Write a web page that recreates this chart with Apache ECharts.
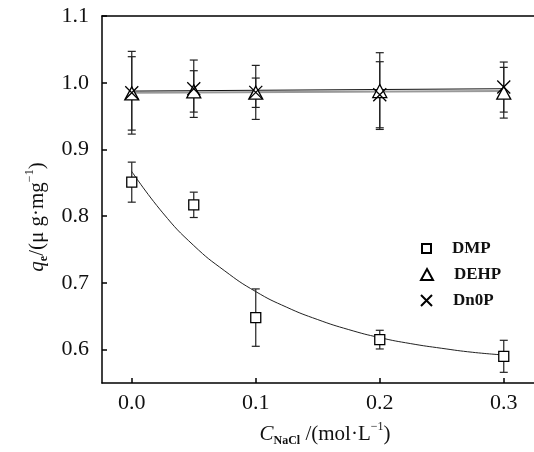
<!DOCTYPE html>
<html><head><meta charset="utf-8">
<script src="https://cdn.jsdelivr.net/npm/echarts@6/dist/echarts.min.js"></script>
<style>html,body{margin:0;padding:0;background:#fff}#c{width:534px;height:452px}</style>
</head><body><div id="c"></div>
<script>
const xVals = [0, 0.05, 0.1, 0.2, 0.3];
const dmp = [0.851, 0.817, 0.648, 0.615, 0.590];
const dmpErr = [0.030, 0.019, 0.043, 0.014, 0.024];
const dehp = [0.984, 0.987, 0.985, 0.9875, 0.985];
const dehpErr = [0.055, 0.031, 0.022, 0.0575, 0.038];
const dnop = [0.985, 0.991, 0.9855, 0.982, 0.9935];
const dnopErr = [0.062, 0.043, 0.0405, 0.0495, 0.0375];
const dmpFitX = [0, 0.025, 0.05, 0.075, 0.1, 0.125, 0.15, 0.175, 0.2, 0.225, 0.25, 0.275, 0.3];
const dmpFitY = [0.867, 0.805, 0.756, 0.718, 0.687, 0.6635, 0.645, 0.630, 0.618, 0.609, 0.602, 0.596, 0.592];
const flatFitX = [0, 0.3];
const dehpFitY = [0.985, 0.9875];
const dnopFitY = [0.9875, 0.991];
const xTicks = [0, 0.1, 0.2, 0.3];
const yTicks = [0.6, 0.7, 0.8, 0.9, 1.0, 1.1];

const FONT = '"Liberation Serif", "DejaVu Serif", serif';
const zip = (xs, ys) => xs.map((x, i) => [x, ys[i]]);
const errData = (ys, es) => xVals.map((x, i) => [x, ys[i] - es[i], ys[i] + es[i]]);

function errBar(params, api) {
  const x = api.value(0);
  const lo = api.coord([x, api.value(1)]);
  const hi = api.coord([x, api.value(2)]);
  const w = 4;
  const st = {stroke: '#222', lineWidth: 1.2, fill: 'none'};
  return {type: 'group', children: [
    {type: 'line', shape: {x1: lo[0], y1: lo[1], x2: hi[0], y2: hi[1]}, style: st},
    {type: 'line', shape: {x1: lo[0]-w, y1: lo[1], x2: lo[0]+w, y2: lo[1]}, style: st},
    {type: 'line', shape: {x1: hi[0]-w, y1: hi[1], x2: hi[0]+w, y2: hi[1]}, style: st}
  ]};
}

const XPATH = 'path://M0,0L10,10M10,0L0,10';
const chart = echarts.init(document.getElementById('c'), null, {renderer: 'canvas'});
const legendBase = {
  orient: 'vertical', left: 416, selectedMode: false,
  textStyle: {fontFamily: FONT, fontSize: 17, fontWeight: 'bold', color: '#111', padding: [0, 0, 0, 16]}
};
const richStyles = {
  q: {fontFamily: FONT, fontSize: 21, fontStyle: 'italic', fill: '#111', lineHeight: 26},
  n: {fontFamily: FONT, fontSize: 21, fill: '#111', lineHeight: 26},
  sub: {fontFamily: FONT, fontSize: 12, fontWeight: 'bold', fill: '#111', lineHeight: 12, verticalAlign: 'bottom'},
  sup: {fontFamily: FONT, fontSize: 12, fill: '#111', lineHeight: 12, verticalAlign: 'top'}
};
chart.setOption({
  animation: false,
  backgroundColor: '#fff',
  grid: {left: 102, top: 16, width: 434, height: 367, outerBoundsMode: 'none', containLabel: false, show: false},
  xAxis: [{
    type: 'value', min: -0.024, max: 0.326,
    axisLine: {show: true, onZero: false, lineStyle: {color: '#000', width: 1.5}},
    axisTick: {show: true, inside: true, length: 5, customValues: xTicks, lineStyle: {color: '#000', width: 1.5}},
    axisLabel: {customValues: xTicks, formatter: v => v.toFixed(1), fontFamily: FONT, fontSize: 22, color: '#111', margin: 9},
    splitLine: {show: false}
  }, {
    type: 'value', position: 'top', min: -0.024, max: 0.326,
    axisLine: {show: true, onZero: false, lineStyle: {color: '#000', width: 1.5}},
    axisTick: {show: false}, axisLabel: {show: false}, splitLine: {show: false}
  }],
  yAxis: {
    type: 'value', min: 0.55, max: 1.1,
    axisLine: {show: true, onZero: false, lineStyle: {color: '#000', width: 1.5}},
    axisTick: {show: true, inside: true, length: 5, customValues: yTicks, lineStyle: {color: '#000', width: 1.5}},
    axisLabel: {customValues: yTicks, formatter: v => v.toFixed(1), fontFamily: FONT, fontSize: 22, color: '#111', margin: 13},
    splitLine: {show: false}
  },
  legend: [
    Object.assign({}, legendBase, {top: 235, itemWidth: 9, itemHeight: 9, data: ['DMP']}),
    Object.assign({}, legendBase, {top: 261, left: 415, itemWidth: 12, itemHeight: 11, data: ['DEHP']}),
    Object.assign({}, legendBase, {top: 287, left: 415, itemWidth: 11, itemHeight: 11, data: ['Dn0P']})
  ],
  graphic: [
    {type: 'text', x: 37, y: 217, rotation: Math.PI / 2, style: {
      text: '{q|q}{sub|e}{n|/(μ g·mg}{sup|−1}{n|)}', align: 'center', verticalAlign: 'middle', rich: richStyles}},
    {type: 'text', x: 325, y: 434, style: {
      text: '{q|C}{sub|NaCl}{n| /(mol·L}{sup|−1}{n|)}', align: 'center', verticalAlign: 'middle', rich: richStyles}}
  ],
  series: [
    {type: 'line', data: zip(dmpFitX, dmpFitY), smooth: true, showSymbol: false, silent: true,
     lineStyle: {color: '#222', width: 1}, z: 2},
    {type: 'line', data: zip(flatFitX, dehpFitY), showSymbol: false, silent: true,
     lineStyle: {color: '#999', width: 2}, z: 2},
    {type: 'line', data: zip(flatFitX, dnopFitY), showSymbol: false, silent: true,
     lineStyle: {color: '#111', width: 1}, z: 2},
    {type: 'custom', renderItem: errBar, data: errData(dmp, dmpErr), encode: {x: 0, y: [1, 2]}, z: 3, silent: true},
    {type: 'custom', renderItem: errBar, data: errData(dehp, dehpErr), encode: {x: 0, y: [1, 2]}, z: 3, silent: true},
    {type: 'custom', renderItem: errBar, data: errData(dnop, dnopErr), encode: {x: 0, y: [1, 2]}, z: 3, silent: true},
    {name: 'DMP', type: 'scatter', data: zip(xVals, dmp), symbol: 'rect', symbolSize: 10,
     itemStyle: {color: '#fff', borderColor: '#000', borderWidth: 1.3, opacity: 1}, z: 5},
    {name: 'DEHP', type: 'scatter', data: zip(xVals, dehp), symbol: 'triangle', symbolSize: [14, 13],
     itemStyle: {color: '#fff', borderColor: '#000', borderWidth: 1.3, opacity: 1}, z: 5},
    {name: 'Dn0P', type: 'scatter', data: zip(xVals, dnop), symbol: XPATH, symbolSize: 13,
     itemStyle: {color: 'transparent', borderColor: '#000', borderWidth: 1.3, opacity: 1}, z: 6}
  ]
});
</script></body></html>
